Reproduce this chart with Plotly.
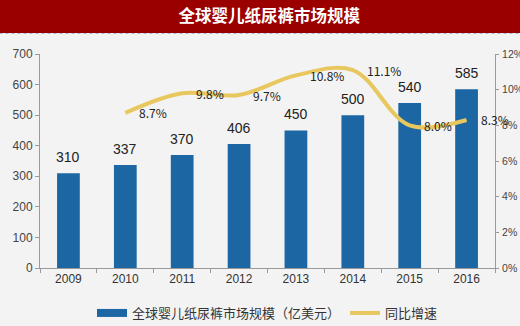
import plotly.graph_objects as go

years = ["2009", "2010", "2011", "2012", "2013", "2014", "2015", "2016"]
market = [310, 337, 370, 406, 450, 500, 540, 585]
growth_years = ["2010", "2011", "2012", "2013", "2014", "2015", "2016"]
growth = [8.7, 9.8, 9.7, 10.8, 11.1, 8.0, 8.3]
growth_labels = ["8.7%", "9.8%", "9.7%", "10.8%", "11.1%", "8.0%", "8.3%"]
y_ticks = [0, 100, 200, 300, 400, 500, 600, 700]
y2_ticks = [0, 2, 4, 6, 8, 10, 12]
y2_labels = ["0%", "2%", "4%", "6%", "8%", "10%", "12%"]

BLUE = "#1c67a3"
GOLD = "#e8c75e"
BG = "#f3f3f3"
W, H = 520, 326
L, R, T, B = 40, 25, 54, 58
pw = W - L - R
ph = H - T - B

fig = go.Figure()
fig.add_trace(go.Bar(
    x=years, y=market, name="全球婴儿纸尿裤市场规模（亿美元）", showlegend=False,
    marker=dict(color=BLUE, line=dict(width=0)), yaxis="y",
))
# legend swatch for the bars (wide rectangle like the reference)
fig.add_trace(go.Scatter(
    x=[None], y=[None], name="全球婴儿纸尿裤市场规模（亿美元）", mode="lines",
    line=dict(color=BLUE, width=8), yaxis="y", hoverinfo="skip",
))
fig.add_trace(go.Scatter(
    x=growth_years, y=growth, name="同比增速", yaxis="y2", mode="lines",
    line=dict(color=GOLD, width=4, shape="spline", smoothing=1.0),
))

annotations = []
for x, v in zip(years, market):
    annotations.append(dict(x=years.index(x), y=v, xref="x", yref="y", text=str(v), showarrow=False,
                            yanchor="middle", yshift=16,
                            font=dict(family="Liberation Sans Narrow, Liberation Sans, Arial", size=14, color="#222")))
for x, v, t in zip(growth_years, growth, growth_labels):
    annotations.append(dict(x=years.index(x), y=v, xref="x", yref="y2", text=t, showarrow=False,
                            xanchor="left", yanchor="middle", xshift=12,
                            font=dict(family="Noto Sans CJK SC, DejaVu Sans", size=12, color="#222")))

shapes = [
    dict(type="rect", xref="paper", yref="paper",
         x0=-0.3, x1=1.3, y0=1 + (T - 33) / ph, y1=1 + (T + 5) / ph,
         fillcolor="#9b0000", line=dict(width=0), layer="below"),
    dict(type="line", xref="paper", yref="paper",
         x0=-0.3, x1=1.3, y0=1 + (T - 33.5) / ph, y1=1 + (T - 33.5) / ph,
         line=dict(color="#a9b4d6", width=1, dash="dot")),
]

tick_font = dict(family="Liberation Sans Narrow, Liberation Sans", size=12, color="#444")
fig.update_layout(
    width=W, height=H,
    margin=dict(l=L, r=R, t=T, b=B, pad=0, autoexpand=False),
    paper_bgcolor=BG, plot_bgcolor=BG,
    bargap=0.6,
    title=dict(text="<b>全球婴儿纸尿裤市场规模</b>", x=0.518, xanchor="center",
               y=1 - 16.5 / H, yanchor="middle", yref="container",
               font=dict(family="Noto Sans CJK SC", size=16.5, color="white")),
    xaxis=dict(type="category", categoryorder="array", categoryarray=years,
               range=[-0.5, len(years) - 0.5], autorange=False, automargin=False,
               showgrid=False, showline=True, linecolor="#9a9a9a", linewidth=1,
               ticks="outside", tickson="boundaries", ticklen=4, tickcolor="#9a9a9a",
               tickfont=dict(family="Liberation Sans Narrow, Liberation Sans", size=12, color="#333"),
               zeroline=False),
    yaxis=dict(range=[0, 700], tickvals=y_ticks, showgrid=False, showline=True, automargin=False,
               linecolor="#9a9a9a", ticks="outside", ticklen=4, tickcolor="#9a9a9a",
               tickfont=tick_font, zeroline=False),
    yaxis2=dict(range=[0, 12], overlaying="y", side="right", tickvals=y2_ticks, ticktext=y2_labels,
                showgrid=False, showline=True, linecolor="#9a9a9a", ticks="outside", ticklen=3,
                tickcolor="#9a9a9a", automargin=False, ticklabelstandoff=1,
                tickfont=dict(family="Liberation Sans Narrow, Liberation Sans", size=10.5, color="#444"),
                zeroline=False),
    legend=dict(orientation="h", x=0.5, xanchor="center", y=1 - 313 / H, yanchor="middle",
                yref="container", bgcolor="rgba(0,0,0,0)", itemwidth=30,
                font=dict(family="Noto Sans CJK SC", size=13, color="#333"), traceorder="normal"),
    annotations=annotations,
    shapes=shapes,
)

fig.write_html("out.html")
